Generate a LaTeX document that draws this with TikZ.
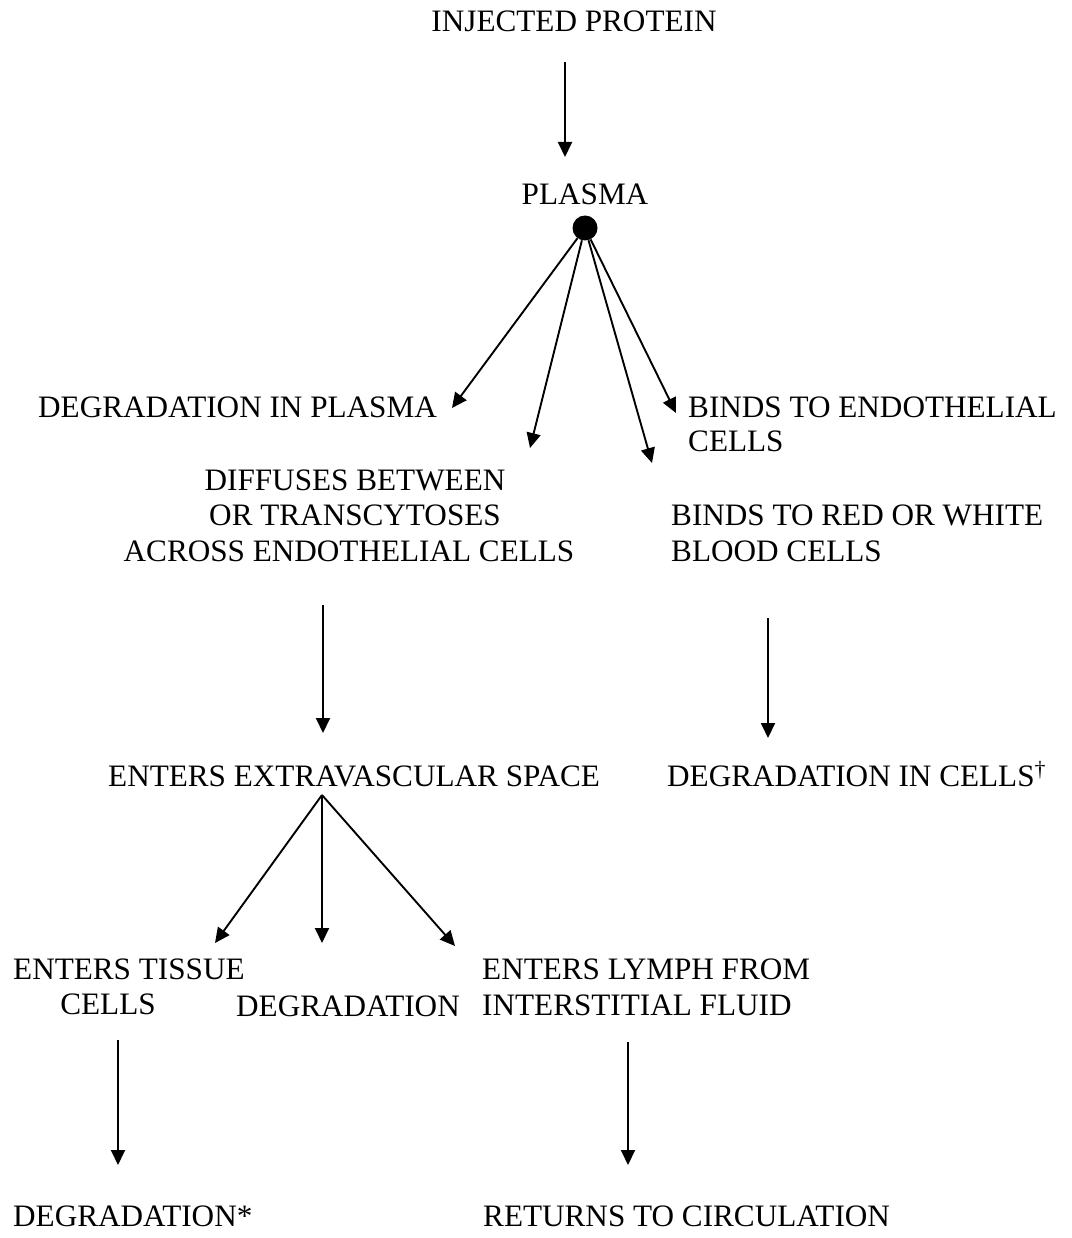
\documentclass[tikz,border=0pt]{standalone}
\usepackage{fontspec}
\setmainfont{Liberation Serif}
\usetikzlibrary{arrows.meta}
\begin{document}
\begin{tikzpicture}[x=1pt,y=-1pt,
  lbl/.style={inner sep=0pt, font=\fontsize{31.2}{36}\selectfont},
  flow/.style={-{Triangle[length=15pt,width=14pt]}, line width=1.9pt},
]
\useasboundingbox (0,0) rectangle (1071,1238);

% labels
\node[lbl,anchor=base] (inj) at (574,32) {INJECTED PROTEIN};
\node[lbl,anchor=base] (plasma) at (585,205) {PLASMA};
\node[circle,fill,inner sep=0pt,minimum size=25pt] (dot) at (585,228) {};

\node[lbl,anchor=base west] (dip) at (38,417) {DEGRADATION IN PLASMA};
\node[lbl,anchor=base west] (bte1) at (688,417) {BINDS TO ENDOTHELIAL};
\node[lbl,anchor=base west] (bte2) at (688,451) {CELLS};
\node[lbl,anchor=base] (dif1) at (355,490) {DIFFUSES BETWEEN};
\node[lbl,anchor=base] (dif2) at (355,525) {OR TRANSCYTOSES};
\node[lbl,anchor=base] (dif3) at (349,561) {ACROSS ENDOTHELIAL CELLS};
\node[lbl,anchor=base west] (brw1) at (671,525) {BINDS TO RED OR WHITE};
\node[lbl,anchor=base west] (brw2) at (671,561) {BLOOD CELLS};

\node[lbl,anchor=base west] (ees) at (108,786) {ENTERS EXTRAVASCULAR SPACE};
\node[lbl,anchor=base west] (dic) at (667,786) {DEGRADATION IN CELLS\textsuperscript{\textdagger}};

\node[lbl,anchor=base west] (ets1) at (13,979) {ENTERS TISSUE};
\node[lbl,anchor=base] (ets2) at (108,1014) {CELLS};
\node[lbl,anchor=base west] (deg) at (236,1016) {DEGRADATION};
\node[lbl,anchor=base west] (elf1) at (482,979) {ENTERS LYMPH FROM};
\node[lbl,anchor=base west] (elf2) at (482,1015) {INTERSTITIAL FLUID};

\node[lbl,anchor=base west] (degs) at (13,1226) {DEGRADATION*};
\node[lbl,anchor=base west] (rtc) at (483,1226) {RETURNS TO CIRCULATION};

% arrow end points
\coordinate (injOut) at (565,62);
\coordinate (plasmaIn) at (565,157);
\coordinate (dipIn) at (452,408);
\coordinate (difIn) at (530,448);
\coordinate (brwIn) at (652,463);
\coordinate (bteIn) at (676,413);
\coordinate (difOut) at (323,605);
\coordinate (eesIn) at (323,733);
\coordinate (brwOut) at (768,618);
\coordinate (dicIn) at (768,738);
\coordinate (eesOut) at (322,795);
\coordinate (etsIn) at (215,943);
\coordinate (degIn) at (322,943);
\coordinate (elfIn) at (455,946);
\coordinate (etsOut) at (118,1040);
\coordinate (degsIn) at (118,1165);
\coordinate (elfOut) at (628,1042);
\coordinate (rtcIn) at (628,1165);

% connectors
\draw[flow] (injOut) -- (plasmaIn);
\draw[flow] (dot) -- (dipIn);
\draw[flow] (dot) -- (difIn);
\draw[flow] (dot) -- (brwIn);
\draw[flow] (dot) -- (bteIn);
\draw[flow] (difOut) -- (eesIn);
\draw[flow] (brwOut) -- (dicIn);
\draw[flow] (eesOut) -- (etsIn);
\draw[flow] (eesOut) -- (degIn);
\draw[flow] (eesOut) -- (elfIn);
\draw[flow] (etsOut) -- (degsIn);
\draw[flow] (elfOut) -- (rtcIn);
\end{tikzpicture}
\end{document}
